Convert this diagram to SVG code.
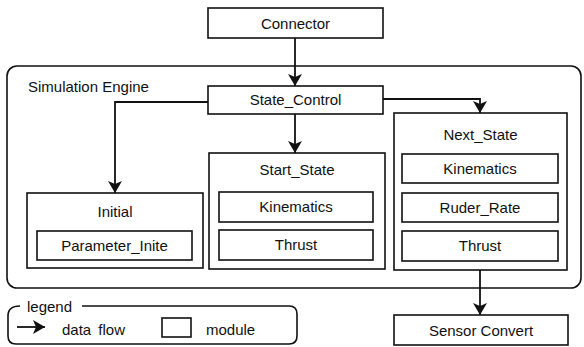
<svg xmlns="http://www.w3.org/2000/svg" width="584" height="347" viewBox="0 0 584 347">
<style>
.b{fill:none;stroke:#111;stroke-width:1.6}
.c{fill:none;stroke:#111;stroke-width:1.8}
text{font-family:"Liberation Sans",Arial,sans-serif;font-size:15px;fill:#111}
.m{text-anchor:middle}
</style>
<defs>
<marker id="ah" markerUnits="userSpaceOnUse" markerWidth="12" markerHeight="14" viewBox="0 0 12 14" refX="12" refY="7" orient="auto">
<path d="M0,0 L12,7 L0,14 L3,7 z" fill="#111"/>
</marker>
</defs>
<rect width="584" height="347" fill="#fff"/>
<g id="engine">
<rect class="b" x="7" y="66" width="574" height="222" rx="10"/>
<text x="28" y="92">Simulation Engine</text>
</g>
<g id="connector">
<rect class="b" x="208" y="8" width="175" height="30"/>
<text class="m" x="295.5" y="29">Connector</text>
</g>
<g id="state_control">
<rect class="b" x="208" y="86" width="175" height="28"/>
<text class="m" x="295.5" y="105">State_Control</text>
</g>
<g id="initial">
<rect class="b" x="27" y="193" width="176" height="75"/>
<text class="m" x="115" y="217">Initial</text>
<rect class="b" x="37" y="231" width="155" height="29"/>
<text class="m" x="114.5" y="251">Parameter_Inite</text>
</g>
<g id="start_state">
<rect class="b" x="209" y="153" width="176" height="116"/>
<text class="m" x="297" y="175">Start_State</text>
<rect class="b" x="219" y="192" width="154" height="30"/>
<text class="m" x="296" y="212">Kinematics</text>
<rect class="b" x="219" y="230" width="154" height="30"/>
<text class="m" x="296" y="250">Thrust</text>
</g>
<g id="next_state">
<rect class="b" x="394" y="113" width="173" height="157"/>
<text class="m" x="480.5" y="140">Next_State</text>
<rect class="b" x="402" y="154" width="156" height="29"/>
<text class="m" x="480" y="174">Kinematics</text>
<rect class="b" x="402" y="193" width="156" height="29"/>
<text class="m" x="480" y="213">Ruder_Rate</text>
<rect class="b" x="402" y="231" width="156" height="30"/>
<text class="m" x="480" y="251">Thrust</text>
</g>
<g id="sensor_convert">
<rect class="b" x="394" y="315" width="174" height="30"/>
<text class="m" x="481" y="336">Sensor Convert</text>
</g>
<g id="connectors">
<path class="c" d="M295,38 V86" marker-end="url(#ah)"/>
<path class="c" d="M295,114 V153" marker-end="url(#ah)"/>
<path class="c" d="M208,102 H115 V193" marker-end="url(#ah)"/>
<path class="c" d="M383,99 H480 V113" marker-end="url(#ah)"/>
<path class="c" d="M480,270 V315" marker-end="url(#ah)"/>
</g>
<g id="legend">
<path class="b" d="M20,306 Q8,306 8,316 V336 Q8,344 16,344 H289 Q297,344 297,336 V314 Q297,306 289,306 H82"/>
<text x="27" y="312">legend</text>
<path class="c" d="M17,327 H45" marker-end="url(#ah)"/>
<text x="62" y="335" style="word-spacing:3px">data flow</text>
<rect class="b" x="162" y="318" width="29" height="19"/>
<text x="206" y="335">module</text>
</g>
</svg>
